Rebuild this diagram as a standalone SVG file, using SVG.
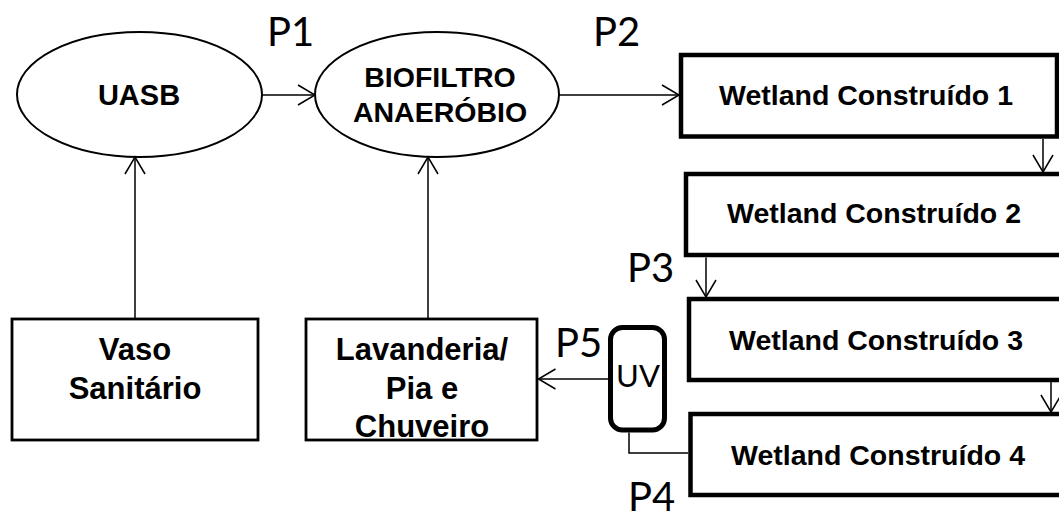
<svg xmlns="http://www.w3.org/2000/svg" width="1059" height="521" viewBox="0 0 1059 521">
<style>
  .bg { fill: #ffffff; }
  .ell { fill: #ffffff; stroke: #000; stroke-width: 2; }
  .box { fill: #ffffff; stroke: #000; stroke-width: 2.8; }
  .wet { fill: #ffffff; stroke: #000; stroke-width: 4.5; }
  .uv { fill: #ffffff; stroke: #000; stroke-width: 5; }
  .conn { fill: none; stroke: #000; stroke-width: 1.5; }
  .lbl { font-family: "Liberation Sans", Arial, sans-serif; font-weight: bold; fill: #000; text-anchor: middle; }
  .pt { font-family: Lato, "Open Sans", sans-serif; font-size: 40px; fill: #000; }
</style>
<defs>
  <marker id="arr" markerUnits="userSpaceOnUse" markerWidth="20" markerHeight="24" refX="18" refY="11" orient="auto">
    <path d="M1,1 L18,11 L1,21" fill="none" stroke="#000" stroke-width="1.5"/>
  </marker>
</defs>
<rect class="bg" x="0" y="0" width="1059" height="521"/>

<g id="uasb">
  <ellipse class="ell" cx="139.5" cy="94.5" rx="122.5" ry="62.5"/>
  <text class="lbl" x="139" y="105" font-size="29">UASB</text>
</g>
<g id="biofiltro">
  <ellipse class="ell" cx="437" cy="94.5" rx="122" ry="62.5"/>
  <text class="lbl" x="440" y="87" font-size="28.5">BIOFILTRO</text>
  <text class="lbl" x="440" y="122" font-size="28.5">ANAERÓBIO</text>
</g>
<g id="wetland1">
  <rect class="wet" x="681" y="55" width="376" height="81.5"/>
  <text class="lbl" x="866" y="105" font-size="28.5">Wetland Construído 1</text>
</g>
<g id="wetland2">
  <rect class="wet" x="686" y="174" width="390" height="81"/>
  <text class="lbl" x="874" y="223" font-size="28.5">Wetland Construído 2</text>
</g>
<g id="wetland3">
  <rect class="wet" x="689" y="299" width="390" height="81"/>
  <text class="lbl" x="876" y="350" font-size="28.5">Wetland Construído 3</text>
</g>
<g id="wetland4">
  <rect class="wet" x="690.5" y="414" width="390" height="81"/>
  <text class="lbl" x="878" y="465" font-size="28.5">Wetland Construído 4</text>
</g>
<g id="vaso">
  <rect class="box" x="12" y="319" width="246" height="121"/>
  <text class="lbl" x="135" y="360" font-size="31">Vaso</text>
  <text class="lbl" x="135" y="399" font-size="31">Sanitário</text>
</g>
<g id="lavanderia">
  <rect class="box" x="306" y="319" width="231" height="121"/>
  <text class="lbl" x="422" y="360" font-size="31">Lavanderia/</text>
  <text class="lbl" x="422" y="399" font-size="31">Pia e</text>
  <text class="lbl" x="422" y="437" font-size="31">Chuveiro</text>
</g>
<g id="uv">
  <rect class="uv" x="610.5" y="327.5" width="54" height="102.5" rx="12" ry="12"/>
  <text x="638" y="387" font-family="Lato, 'Open Sans', sans-serif" font-size="31" text-anchor="middle" fill="#000">UV</text>
</g>

<g id="points">
  <text class="pt" x="267" y="46">P1</text>
  <text class="pt" x="593" y="46">P2</text>
  <text class="pt" x="627" y="282">P3</text>
  <text class="pt" x="628" y="511">P4</text>
  <text class="pt" x="555" y="357">P5</text>
</g>

<g id="connectors">
  <line class="conn" x1="262" y1="95" x2="315" y2="95" marker-end="url(#arr)"/>
  <line class="conn" x1="559" y1="95" x2="679" y2="95" marker-end="url(#arr)"/>
  <line class="conn" x1="135" y1="319" x2="135" y2="157" marker-end="url(#arr)"/>
  <line class="conn" x1="428" y1="319" x2="428" y2="157" marker-end="url(#arr)"/>
  <line class="conn" x1="1043" y1="139" x2="1043" y2="172" marker-end="url(#arr)"/>
  <line class="conn" x1="706" y1="257.5" x2="706" y2="297" marker-end="url(#arr)"/>
  <line class="conn" x1="1051" y1="382" x2="1051" y2="412" marker-end="url(#arr)"/>
  <line class="conn" x1="608" y1="379" x2="538.5" y2="379" marker-end="url(#arr)"/>
  <polyline class="conn" points="688,453 629,453 629,432.5"/>
</g>
</svg>
